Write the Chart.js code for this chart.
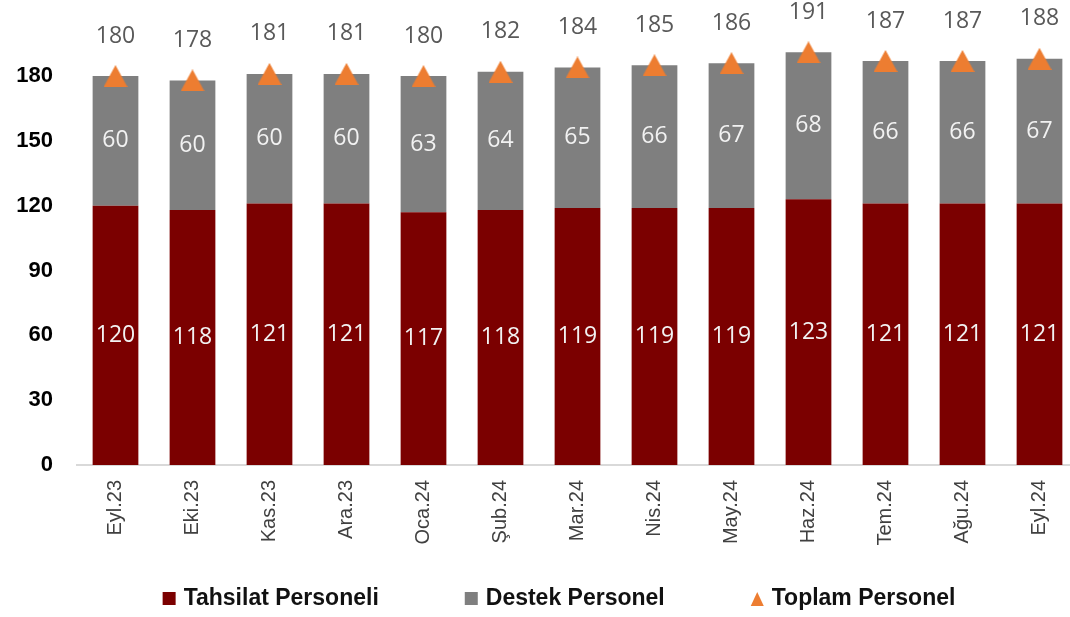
<!DOCTYPE html>
<html>
<head>
<meta charset="utf-8">
<script src="https://cdn.jsdelivr.net/npm/chart.js@4.4.1/dist/chart.umd.min.js"></script>
<style>
  html, body { margin: 0; padding: 0; background: #fff; overflow: hidden; }
  #wrap { width: 1090px; height: 617px; }
</style>
</head>
<body>
<div id="wrap"><canvas id="staffChart" width="1090" height="617"></canvas></div>
<script>
const months = ["Eyl.23", "Eki.23", "Kas.23", "Ara.23", "Oca.24", "Şub.24", "Mar.24",
  "Nis.24", "May.24", "Haz.24", "Tem.24", "Ağu.24", "Eyl.24"];
const tahsilat = [120, 118, 121, 121, 117, 118, 119, 119, 119, 123, 121, 121, 121];
const destek = [60, 60, 60, 60, 63, 64, 65, 66, 67, 68, 66, 66, 67];
const toplam = [180, 178, 181, 181, 180, 182, 184, 185, 186, 191, 187, 187, 188];
const yTickMax = 180;

const RED = "#7B0000";
const GREY = "#7F7F7F";
const ORANGE = "#ED7D31";

// little triangle used as point marker (centred on the value like excel does)
function triangleMarker(w, h, color) {
  const c = document.createElement("canvas");
  c.width = w;
  c.height = h;
  const g = c.getContext("2d");
  g.fillStyle = color;
  g.beginPath();
  g.moveTo(w / 2, 0);
  g.lineTo(w, h);
  g.lineTo(0, h);
  g.closePath();
  g.fill();
  return c;
}

const valueLabels = {
  id: "valueLabels",
  afterDatasetsDraw(chart) {
    const ctx = chart.ctx;
    ctx.save();
    ctx.textAlign = "center";
    ctx.textBaseline = "middle";
    ctx.font = "23px 'Open Sans', 'Liberation Sans', sans-serif";
    chart.data.datasets.forEach((ds, i) => {
      const meta = chart.getDatasetMeta(i);
      meta.data.forEach((el, j) => {
        if (ds.type === "line") {
          ctx.fillStyle = "#595959";
          ctx.fillText(ds.data[j], el.x, el.y - 40);
        } else {
          ctx.fillStyle = "#F2F2F2";
          ctx.fillText(ds.data[j], el.x, (el.y + el.base) / 2);
        }
      });
    });
    ctx.restore();
  },
};

const bottomLegend = {
  id: "bottomLegend",
  afterDraw(chart) {
    const ctx = chart.ctx;
    const gap = 86, box = 13, textGap = 8, cy = 599, centre = 559;
    ctx.save();
    ctx.font = "bold 23px 'Liberation Sans', Arial, sans-serif";
    ctx.textBaseline = "middle";
    ctx.textAlign = "left";
    const items = chart.data.datasets.map((ds) => ({
      text: ds.label,
      color: ds.type === "line" ? ORANGE : ds.backgroundColor,
      tri: ds.type === "line",
      w: ctx.measureText(ds.label).width,
    }));
    let total = 0;
    items.forEach((it, i) => (total += box + textGap + it.w + (i ? gap : 0)));
    let x = centre - total / 2;
    items.forEach((it) => {
      ctx.fillStyle = it.color;
      if (it.tri) {
        ctx.beginPath();
        ctx.moveTo(x + box / 2, cy - 7);
        ctx.lineTo(x + box, cy + 7);
        ctx.lineTo(x, cy + 7);
        ctx.closePath();
        ctx.fill();
      } else {
        ctx.fillRect(x, cy - 7, box, box);
      }
      ctx.fillStyle = "#111";
      ctx.fillText(it.text, x + box + textGap, cy);
      x += box + textGap + it.w + gap;
    });
    ctx.restore();
  },
};

new Chart(document.getElementById("staffChart"), {
  type: "bar",
  data: {
    labels: months,
    datasets: [
      {
        label: "Tahsilat Personeli",
        data: tahsilat,
        backgroundColor: RED,
        stack: "staff",
        order: 1,
      },
      {
        label: "Destek Personel",
        data: destek,
        backgroundColor: GREY,
        stack: "staff",
        order: 1,
      },
      {
        type: "line",
        label: "Toplam Personel",
        data: toplam,
        showLine: false,
        pointStyle: triangleMarker(24, 22, ORANGE),
        pointRadius: 12,
        pointBackgroundColor: ORANGE,
        pointBorderWidth: 0,
        stack: "total",
        order: 0,
      },
    ],
  },
  options: {
    responsive: false,
    animation: false,
    layout: { padding: { top: 10, right: 5, bottom: 0, left: 0 } },
    datasets: { bar: { barPercentage: 0.594, categoryPercentage: 1 } },
    plugins: {
      legend: { display: false },
      tooltip: { enabled: false },
    },
    scales: {
      x: {
        stacked: true,
        grid: { display: false, drawTicks: false },
        border: { display: true, color: "#D9D9D9", width: 2 },
        ticks: {
          autoSkip: false,
          minRotation: 90,
          maxRotation: 90,
          padding: 15,
          color: "#404040",
          font: { family: "'Liberation Sans', Arial, sans-serif", size: 20 },
        },
        afterFit(axis) {
          axis.height = 152;
        },
      },
      y: {
        stacked: true,
        min: 0,
        max: 198,
        grid: { display: false, drawTicks: false },
        border: { display: false },
        ticks: {
          stepSize: 30,
          padding: 24,
          color: "#000",
          font: { family: "'Liberation Sans', Arial, sans-serif", size: 22, weight: "bold" },
        },
        afterBuildTicks(axis) {
          axis.ticks = axis.ticks.filter((t) => t.value <= yTickMax);
        },
        afterFit(axis) {
          axis.width = 77;
        },
      },
    },
  },
  plugins: [valueLabels, bottomLegend],
});
</script>
</body>
</html>
